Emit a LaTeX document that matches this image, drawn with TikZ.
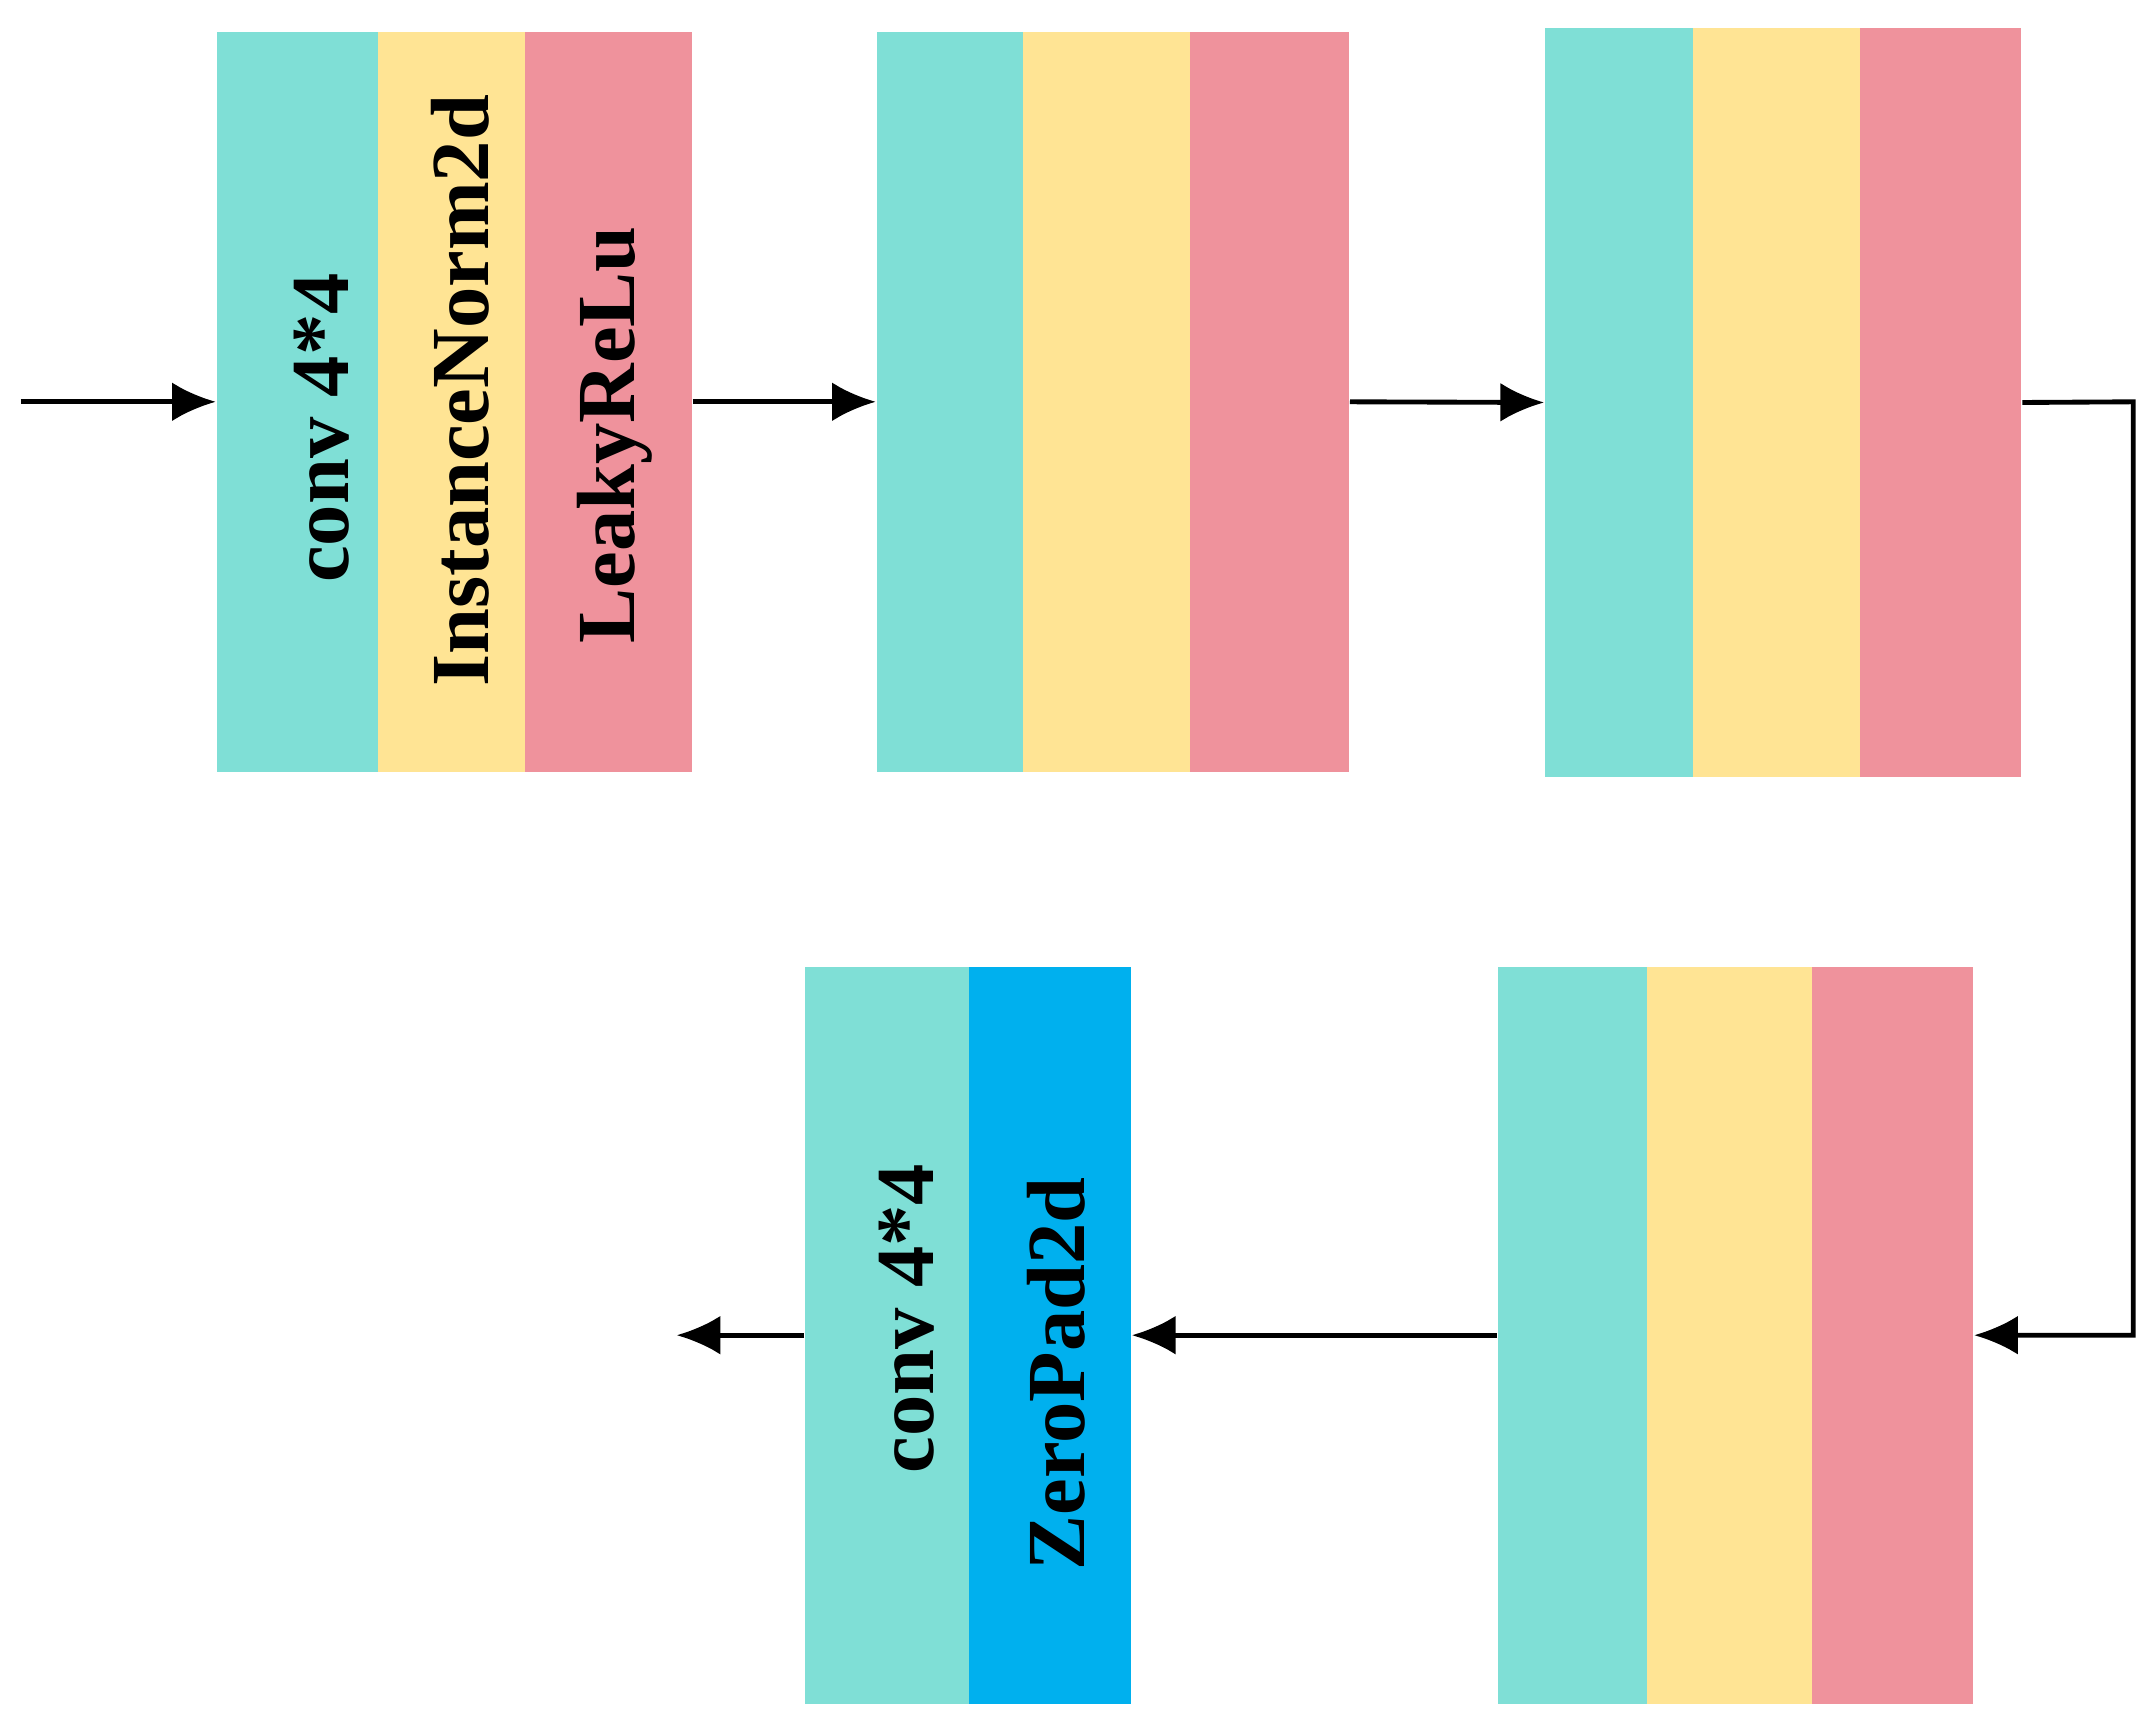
\documentclass[tikz,border=0pt]{standalone}
\usepackage{fontspec}
\setmainfont{Liberation Serif}
\usetikzlibrary{arrows.meta}
\definecolor{cteal}{HTML}{7FDFD6}
\definecolor{cyel}{HTML}{FFE494}
\definecolor{cpink}{HTML}{EF929C}
\definecolor{cblue}{HTML}{00B0EE}
\begin{document}
\begin{tikzpicture}[x=0.01cm,y=-0.01cm,
  strip/.style={draw=none,inner sep=0pt},
  lbl/.style={rotate=90,font=\fontsize{17}{20}\selectfont\bfseries,inner sep=0pt},
  arr/.style={line width=1pt,-{Latex[length=9pt,width=8pt]}}]
\useasboundingbox (0,0) rectangle (1560,1249);
% block 1
\fill[cteal] (157,23) rectangle (274,559);
\fill[cyel] (274,23) rectangle (380,559);
\fill[cpink] (380,23) rectangle (501,559);
\node[strip,minimum width=344*0.01cm,minimum height=536*0.01cm] (b1) at (329,291) {};
% block 2
\fill[cteal] (635,23) rectangle (741,559);
\fill[cyel] (741,23) rectangle (862,559);
\fill[cpink] (862,23) rectangle (977,559);
\node[strip,minimum width=342*0.01cm,minimum height=536*0.01cm] (b2) at (806,291) {};
% block 3
\fill[cteal] (1119,20) rectangle (1226,563);
\fill[cyel] (1226,20) rectangle (1347,563);
\fill[cpink] (1347,20) rectangle (1464,563);
\node[strip,minimum width=345*0.01cm,minimum height=543*0.01cm] (b3) at (1291.5,291.5) {};
% block 4
\fill[cteal] (1085,700) rectangle (1193,1234);
\fill[cyel] (1193,700) rectangle (1312,1234);
\fill[cpink] (1312,700) rectangle (1429,1234);
\node[strip,minimum width=344*0.01cm,minimum height=534*0.01cm] (b4) at (1257,967) {};
% block 5
\fill[cteal] (583,700) rectangle (702,1234);
\fill[cblue] (702,700) rectangle (819,1234);
\node[strip,minimum width=236*0.01cm,minimum height=534*0.01cm] (b5) at (701,967) {};
% labels
\node[lbl] (l1) at (233,310) {conv 4*4};
\node[lbl] (l2) at (333,283) {InstanceNorm2d};
\node[lbl] (l3) at (445,315) {LeakyReLu};
\node[lbl] (l4) at (657,955) {conv 4*4};
\node[lbl] (l5) at (765,995) {ZeroPad2d};
% connectors
\coordinate (in) at (15,291);
\coordinate (out) at (490,967);
\coordinate (c1) at (1545,291);
\coordinate (c2) at (1545,967);
\draw[arr] (in) -- (b1.west);
\draw[arr] (b1.east) -- (b2.west);
\draw[arr] (b2.east) -- (b3.west);
\draw[arr] (b3.east) -- (c1) -- (c2) -- (b4.east);
\draw[arr] (b4.west) -- (b5.east);
\draw[arr] (b5.west) -- (out);
\end{tikzpicture}
\end{document}
